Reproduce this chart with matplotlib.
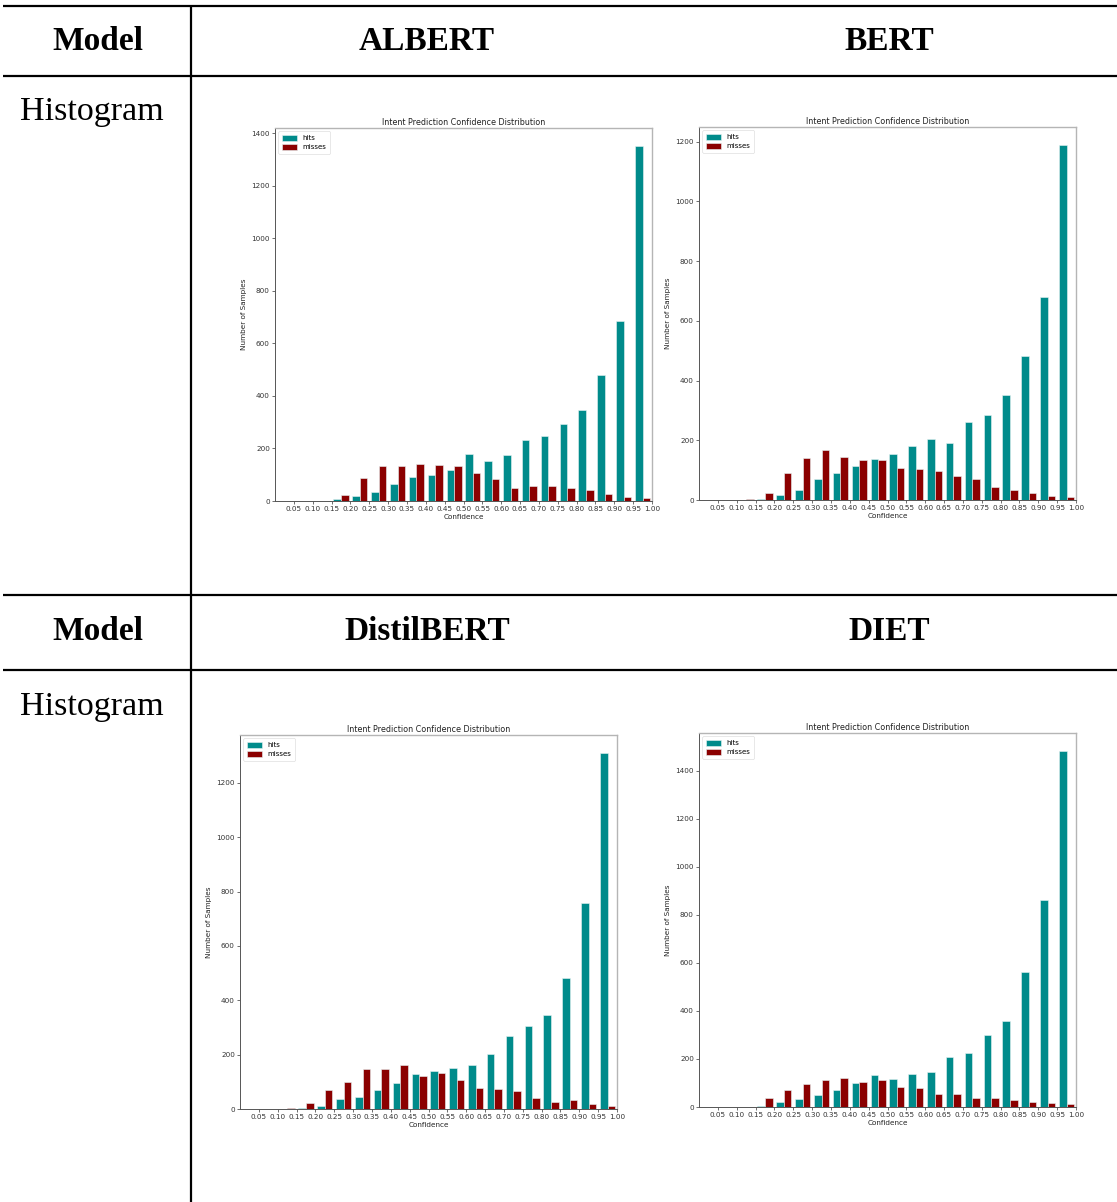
import numpy as np
import matplotlib
matplotlib.use("Agg")
import matplotlib.pyplot as plt

# ---- data ----
bin_edges = np.round(np.arange(0.0, 1.0001, 0.05), 2)
tick_values = np.round(np.arange(0.05, 1.0001, 0.05), 2)

models = ["ALBERT", "BERT", "DistilBERT", "DIET"]

albert_hits = [0, 0, 0, 6, 20, 34, 66, 90, 99, 118, 180, 154, 176, 232, 248, 292, 348, 478, 686, 1352]
albert_misses = [0, 0, 0, 22, 86, 134, 132, 139, 138, 134, 106, 84, 51, 58, 56, 51, 41, 28, 14, 10]

bert_hits = [0, 0, 0, 2, 17, 35, 71, 91, 115, 138, 154, 182, 204, 191, 261, 284, 353, 481, 679, 1190]
bert_misses = [0, 0, 2, 22, 91, 140, 168, 144, 135, 135, 107, 104, 96, 79, 71, 42, 35, 22, 13, 9]

distil_hits = [0, 0, 0, 3, 12, 37, 45, 69, 95, 130, 141, 152, 162, 201, 269, 306, 346, 484, 760, 1311]
distil_misses = [0, 0, 3, 21, 69, 101, 146, 149, 161, 120, 133, 108, 77, 72, 65, 42, 27, 33, 17, 10]

diet_hits = [0, 0, 0, 3, 19, 33, 50, 71, 99, 133, 117, 137, 144, 207, 226, 298, 358, 562, 863, 1482]
diet_misses = [0, 0, 0, 39, 71, 96, 114, 121, 104, 112, 83, 80, 55, 53, 39, 36, 29, 21, 17, 14]

series = {
    "ALBERT": (albert_hits, albert_misses),
    "BERT": (bert_hits, bert_misses),
    "DistilBERT": (distil_hits, distil_misses),
    "DIET": (diet_hits, diet_misses),
}

title_text = "Intent Prediction Confidence Distribution"
xlabel_text = "Confidence"
ylabel_text = "Number of Samples"
legend_labels = ["hits", "misses"]

# ---- figure ----
W, H = 1117, 1202
fig = plt.figure(figsize=(W / 100, H / 100), dpi=100)
fig.patch.set_facecolor("white")

# background axes in pixel coordinates for table lines/text
bg = fig.add_axes([0, 0, 1, 1], zorder=0)
bg.set_xlim(0, W)
bg.set_ylim(H, 0)
bg.axis("off")

lw = 1.6
for y in [6, 76, 595, 670]:
    bg.plot([3, W], [y, y], color="black", lw=lw, solid_capstyle="butt")
bg.plot([191, 191], [6, H], color="black", lw=lw, solid_capstyle="butt")

serif = "Liberation Serif"
hdr = dict(fontfamily=serif, fontweight="bold", fontsize=24, ha="center", va="center")
bg.text(98, 42, "Model", **hdr)
bg.text(427, 42, models[0], **hdr)
bg.text(889, 42, models[1], **hdr)
bg.text(98, 631, "Model", **hdr)
bg.text(427, 631, models[2], **hdr)
bg.text(889, 631, models[3], **hdr)
rowtxt = dict(fontfamily=serif, fontsize=24.5, ha="left", va="center")
bg.text(20, 112, "Histogram", **rowtxt)
bg.text(20, 707, "Histogram", **rowtxt)

# chart boxes: (left, top, right, bottom) in pixels
boxes = {
    "ALBERT": (275, 128, 652, 501),
    "BERT": (699, 127, 1076, 500),
    "DistilBERT": (240, 735, 617, 1109),
    "DIET": (699, 733, 1076, 1107),
}

mids = (bin_edges[:-1] + bin_edges[1:]) / 2

for name in models:
    l, t, r, b = boxes[name]
    ax = fig.add_axes([l / W, 1 - b / H, (r - l) / W, (b - t) / H], zorder=2)
    hits, misses = series[name]
    ax.hist([mids, mids], bins=bin_edges, weights=[hits, misses],
            color=["darkcyan", "darkred"], label=legend_labels,
            edgecolor="#e8f4f4", linewidth=0.4)
    ax.set_xlim(0, 1)
    ax.set_xticks(tick_values)
    ax.set_xticklabels([f"{v:.2f}" for v in tick_values])
    ax.tick_params(labelsize=5.2, length=2.2, width=0.5, pad=1.5, colors="#333333")
    ax.set_title(title_text, fontsize=5.8, pad=2.5, color="#222222")
    ax.set_xlabel(xlabel_text, fontsize=5.2, labelpad=1, color="#222222")
    ax.set_ylabel(ylabel_text, fontsize=5.2, labelpad=3, color="#222222")
    for s in ["left", "bottom"]:
        ax.spines[s].set_color("#555555")
        ax.spines[s].set_linewidth(0.7)
    for s in ["top", "right"]:
        ax.spines[s].set_color("#b5b5b5")
        ax.spines[s].set_linewidth(1.0)
    leg = ax.legend(loc="upper left", fontsize=5, handlelength=2.2, handleheight=0.9,
                    borderpad=0.5, labelspacing=0.4, fancybox=True, framealpha=0.8)
    leg.get_frame().set_linewidth(0.4)

fig.savefig("out.png", dpi=100, facecolor="white")
